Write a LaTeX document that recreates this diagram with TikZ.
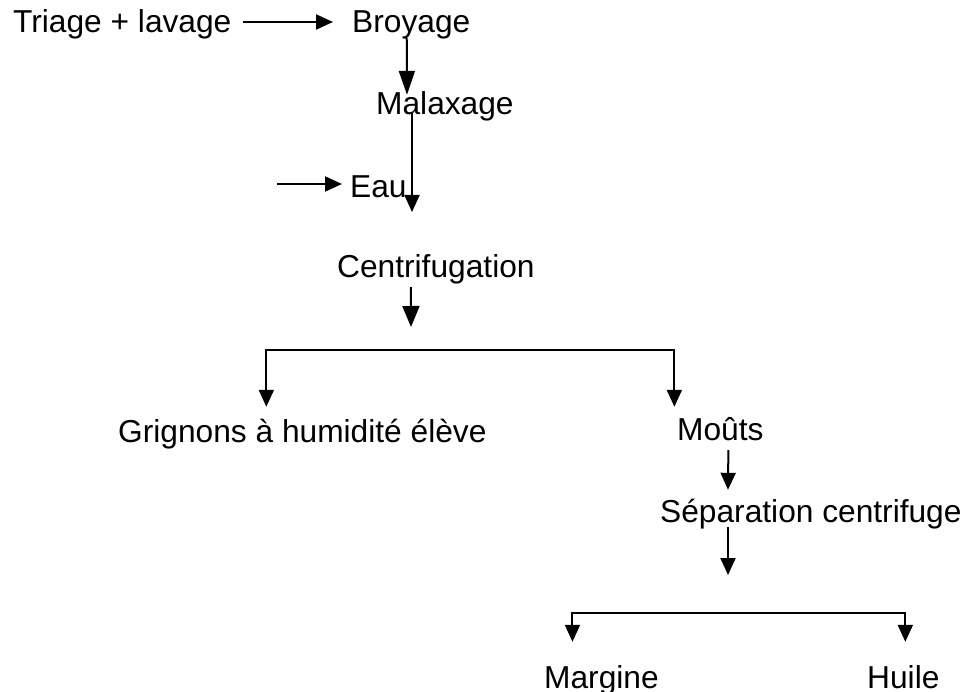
\documentclass[tikz,border=0pt]{standalone}
\usepackage{fontspec}
\setmainfont{Liberation Sans}
\usetikzlibrary{arrows.meta}
\begin{document}
\begin{tikzpicture}[x=1pt,y=-1pt,
        every node/.style={inner sep=0pt,anchor=base west,text height=23pt,text depth=7pt,
            font=\fontsize{31.7}{38}\selectfont},
        arr/.style={line width=2pt,-{Triangle[length=17pt,width=15pt]}}]
        \useasboundingbox (0,0) rectangle (966,692);
        \node (tri) at (13,33) {Triage + lavage};
        \node (bro) at (352,33) {Broyage};
        \node (mal) at (376,115) {Malaxage};
        \node (eau) at (350,198) {Eau};
        \node (cen) at (337,278) {Centrifugation};
        \node (gri) at (118,442) {Grignons à humidité élève};
        \node (mou) at (677,440) {Moûts};
        \node (sep) at (660,522) {Séparation centrifuge};
        \node (mar) at (544,688) {Margine};
        \node (hui) at (867,688) {Huile};
        \coordinate (e0) at (277,184);
        \coordinate (m1) at (412,212);
        \coordinate (c1) at (411,327);
        \coordinate (cb) at (411,350);
        \coordinate (s1) at (728,575);
        \coordinate (sb) at (728,613);
        \draw[arr] ([shift={(11,-3)}]tri.east)--([shift={(-19,-3)}]bro.west);
        \draw[arr,-{Triangle[length=24pt,width=16pt]}] ([shift={(-4.5,-2)}]bro.south)--([shift={(31,3)}]mal.north west);
        \draw[arr] ([shift={(36,-9)}]mal.south west)--(m1);
        \draw[arr] (e0)--([shift={(-8,-6)}]eau.west);
        \draw[arr,-{Triangle[length=21pt,width=17pt]}] ([shift={(-25,2)}]cen.south)--(c1);
        \draw[arr] (cb)-|([shift={(-36,-12)}]gri.north);
        \draw[arr] (cb)-|([shift={(-46,-10)}]mou.north);
        \draw[arr] ([shift={(8,3)}]mou.south)--([shift={(68,-9)}]sep.north west);
        \draw[arr] ([shift={(68,-2)}]sep.south west)--(s1);
        \draw[arr] (sb)-|([shift={(-29,-23)}]mar.north);
        \draw[arr] (sb)-|([shift={(2,-23)}]hui.north);
\end{tikzpicture}
\end{document}
